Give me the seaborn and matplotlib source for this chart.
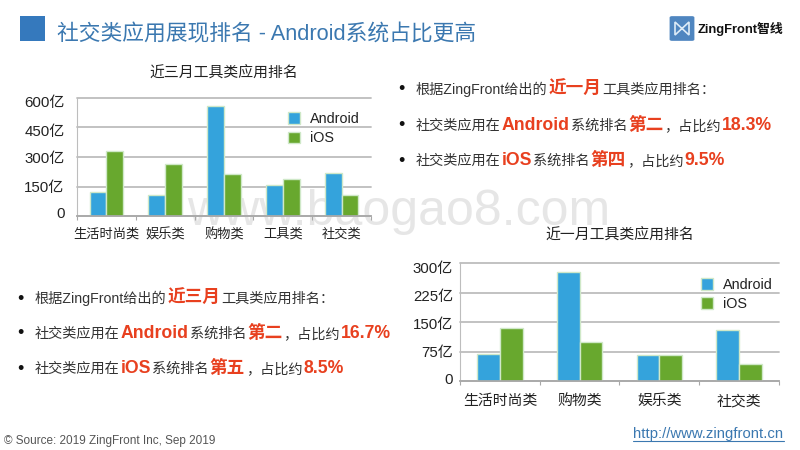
import matplotlib
matplotlib.use('Agg')
import matplotlib.pyplot as plt
from matplotlib.lines import Line2D
from matplotlib.patches import FancyBboxPatch, Polygon, Rectangle
from matplotlib.transforms import ScaledTranslation
import pandas as pd
import seaborn as sns

# данные графиков (значения в 亿)
series_names = ['Android', 'iOS']
cats_3m = ['生活时尚类', '娱乐类', '购物类', '工具类', '社交类']
android_3m = [122, 105, 558, 160, 219]
ios_3m = [333, 265, 214, 189, 105]
ticks_3m = [0, 150, 300, 450, 600]
tick_labels_3m = ['0', '150亿', '300亿', '450亿', '600亿']

cats_1m = ['生活时尚类', '购物类', '娱乐类', '社交类']
android_1m = [68, 277, 66, 129]
ios_1m = [136, 99, 66, 43]
ticks_1m = [0, 75, 150, 225, 300]
tick_labels_1m = ['0', '75亿', '150亿', '225亿', '300亿']

W, H = 800, 450
BLUE = '#34a3dc'
GREEN = '#68a82e'
RED = '#e8401f'
DARK = '#333333'
TITLE_BLUE = '#3b78b0'

sns.set_theme(style='white')
plt.rcParams['font.family'] = ['Liberation Sans', 'Noto Sans CJK SC', 'DejaVu Sans']

fig = plt.figure(figsize=(8, 4.5), dpi=100, facecolor='white')


def px_axes(left, top, right, bottom):
    ax = fig.add_axes([left / W, 1 - bottom / H, (right - left) / W, (bottom - top) / H])
    ax.patch.set_visible(False)
    return ax


def txt(x, y, s, **kw):
    kw.setdefault('va', 'center')
    return fig.text(x / W, 1 - y / H, s, **kw)


def runs(x, y, parts):
    # строка из кусков разного стиля, общая базовая линия
    r = fig.canvas.get_renderer()
    for s, size, color, weight in parts:
        t = txt(x, y + 5, s, fontsize=size, color=color, fontweight=weight, va='baseline')
        x += t.get_window_extent(r).width + 1


def bar_chart(ax, cats, android, ios, ticks, labels, top, label_size, y_pad, x_pad, legend_anchor, shifts):
    df = pd.DataFrame({
        'cat': cats * 2,
        'value': android + ios,
        'os': [series_names[0]] * len(cats) + [series_names[1]] * len(cats),
    })
    sns.barplot(data=df, x='cat', y='value', hue='os', order=cats, hue_order=series_names,
                palette=[BLUE, GREEN], width=0.57, gap=0, saturation=1,
                edgecolor='#cfe8c8', linewidth=1, ax=ax)
    ax.set_xlim(-0.5, len(cats) - 0.5)
    ax.set_ylim(0, top)
    ax.set_yticks(ticks)
    ax.set_yticklabels(labels)
    ax.set_xlabel('')
    ax.set_ylabel('')
    ax.set_axisbelow(True)
    ax.grid(axis='y', color='#bdbdbd', linewidth=1.3)
    ax.grid(axis='x', visible=False)
    for line in ax.get_ygridlines():
        line.set_clip_on(False)
    for name in ['top', 'right']:
        ax.spines[name].set_visible(False)
    ax.spines['bottom'].set_color('#a8a8a8')
    ax.spines['left'].set_color('#bdbdbd')
    ax.spines['left'].set_linewidth(0.8)
    ax.set_xticks([i - 0.5 for i in range(len(cats) + 1)], minor=True)
    ax.tick_params(axis='x', which='minor', length=3, width=0.8, color='#a8a8a8', bottom=True)
    ax.tick_params(axis='x', which='major', length=0, pad=x_pad, labelsize=label_size, labelcolor='#222222')
    ax.tick_params(axis='y', length=0, pad=y_pad, labelsize=10.8, labelcolor='#222222')
    # подписи оси Y в оригинале чуть сдвинуты относительно линий
    for lab, dy in zip(ax.get_yticklabels(), shifts):
        lab.set_transform(lab.get_transform() + ScaledTranslation(0, -dy / 100, fig.dpi_scale_trans))
    ax.legend(loc='upper left', bbox_to_anchor=legend_anchor, frameon=False, fontsize=10.4,
              handlelength=0.83, handleheight=0.83, handletextpad=0.7, labelspacing=0.35,
              labelcolor='#222222', borderpad=0, borderaxespad=0)


ax1 = px_axes(77, 98, 371, 216)
bar_chart(ax1, cats_3m, android_3m, ios_3m, ticks_3m, tick_labels_3m, 600, 9.5, 9, 9,
          (0.717, 0.88), [-3, 0, 1, 3, 3])
ax2 = px_axes(460, 263, 779, 381)
bar_chart(ax2, cats_1m, android_1m, ios_1m, ticks_1m, tick_labels_1m, 300, 10.7, 5, 9.5,
          (0.756, 0.873), [-3, 0, 2, 3, 5])

txt(224, 73, '近三月工具类应用排名', fontsize=10.7, color='#222222', ha='center')
txt(620, 235, '近一月工具类应用排名', fontsize=10.7, color='#222222', ha='center')

# заголовок
fig.add_artist(Rectangle((20 / W, 1 - 41 / H), 25 / W, 25 / H, transform=fig.transFigure,
                         color='#3579bd', linewidth=0))
txt(57, 35, '社交类应用展现排名 - Android系统占比更高', fontsize=15.7, color=TITLE_BLUE)

# логотип
fig.add_artist(FancyBboxPatch((672 / W, 1 - 39.5 / H), 20 / W, 22 / H, transform=fig.transFigure,
                              boxstyle='round,pad=0.003', color='#4f86c0', linewidth=0))
bow = [(675, 22), (682, 28.5), (689, 22), (689, 35), (682, 28.5), (675, 35)]
fig.add_artist(Polygon([(x / W, 1 - y / H) for x, y in bow], closed=True, fill=False,
                       edgecolor='#dcebf7', linewidth=1.2, transform=fig.transFigure))
txt(698, 29, 'ZingFront智线', fontsize=9.3, color='#111111', fontweight='bold')

# текстовые блоки
S, B = 10.2, 12.7
dot = dict(fontsize=13, color='#111111', ha='center')
right_block = [
    (89, [('根据ZingFront给出的', S, DARK, 'normal'), ('近一月', B, RED, 'bold'), ('工具类应用排名：', S, DARK, 'normal')]),
    (125, [('社交类应用在', S, DARK, 'normal'), ('Android', B, RED, 'bold'), ('系统排名', S, DARK, 'normal'),
           ('第二', B, RED, 'bold'), ('，占比约', S, DARK, 'normal'), ('18.3%', B, RED, 'bold')]),
    (160, [('社交类应用在', S, DARK, 'normal'), ('iOS', B, RED, 'bold'), ('系统排名', S, DARK, 'normal'),
           ('第四', B, RED, 'bold'), ('，占比约', S, DARK, 'normal'), ('9.5%', B, RED, 'bold')]),
]
left_block = [
    (298, [('根据ZingFront给出的', S, DARK, 'normal'), ('近三月', B, RED, 'bold'), ('工具类应用排名：', S, DARK, 'normal')]),
    (333, [('社交类应用在', S, DARK, 'normal'), ('Android', B, RED, 'bold'), ('系统排名', S, DARK, 'normal'),
           ('第二', B, RED, 'bold'), ('，占比约', S, DARK, 'normal'), ('16.7%', B, RED, 'bold')]),
    (368, [('社交类应用在', S, DARK, 'normal'), ('iOS', B, RED, 'bold'), ('系统排名', S, DARK, 'normal'),
           ('第五', B, RED, 'bold'), ('，占比约', S, DARK, 'normal'), ('8.5%', B, RED, 'bold')]),
]
for y, parts in right_block:
    txt(401, y + 1, '•', **dot)
    runs(416, y, parts)
for y, parts in left_block:
    txt(20, y + 1, '•', **dot)
    runs(35, y, parts)

# подвал и водяной знак (водяной знак лежит под графиками)
txt(4, 441, '© Source: 2019 ZingFront Inc, Sep 2019', fontsize=8.45, color='#555555')
txt(633, 434, 'http://www.zingfront.cn', fontsize=10.7, color=TITLE_BLUE)
fig.add_artist(Line2D([633 / W, 784 / W], [1 - 441 / H, 1 - 441 / H], color=TITLE_BLUE, linewidth=0.8))
txt(187, 225, 'www.baogao8.com', fontsize=36, color='#e6e6e6', va='baseline', zorder=-1)

fig.savefig('out.png', dpi=100)
